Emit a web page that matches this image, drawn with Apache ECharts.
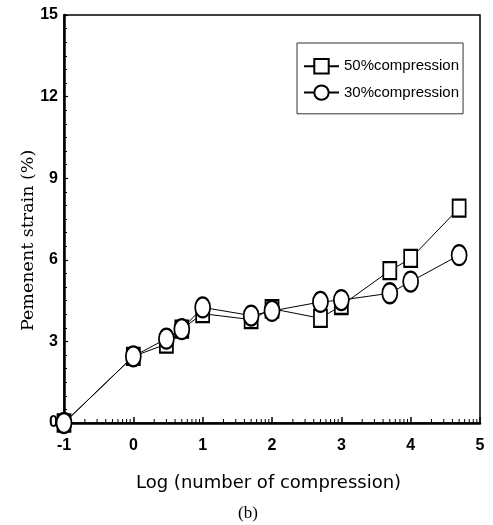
<!DOCTYPE html>
<html>
<head>
<meta charset="utf-8">
<script src="https://cdn.jsdelivr.net/npm/echarts@6/dist/echarts.min.js"></script>
<style>html,body{margin:0;padding:0;background:#fff}#c{width:493px;height:525px}</style>
</head>
<body>
<div id="c"></div>
<script>
// log10(number of compression)
const xLog = [-1, 0, 0.477, 0.699, 1, 1.699, 2, 2.699, 3, 3.699, 4, 4.699];
const strain50 = [0, 2.45, 2.9, 3.45, 4.02, 3.8, 4.2, 3.85, 4.32, 5.6, 6.05, 7.9];
const strain30 = [0, 2.45, 3.1, 3.45, 4.25, 3.95, 4.12, 4.45, 4.52, 4.77, 5.2, 6.17];
const seriesNames = ['50%compression', '30%compression'];
const xTicks = [-1, 0, 1, 2, 3, 4, 5];
const yTicks = [0, 3, 6, 9, 12, 15];
const decades = [-1, 0, 1, 2, 3, 4];
const multipliers = [2, 3, 4, 5, 6, 7, 8, 9];

const minorLogTicks = [];
decades.forEach(d => multipliers.forEach(m => minorLogTicks.push([d + Math.log10(m), 0])));

const chart = echarts.init(document.getElementById('c'), null, {renderer: 'canvas'});
const pair = (xs, ys) => xs.map((x, i) => [x, ys[i]]);

chart.setOption({
  animation: false,
  backgroundColor: '#fff',
  grid: {left: 64, top: 15, right: 13, bottom: 102, show: true, borderColor: '#000', borderWidth: 1.5, backgroundColor: 'transparent'},
  xAxis: {
    type: 'value', min: xTicks[0], max: xTicks[xTicks.length - 1], interval: 1,
    axisLine: {onZero: false, lineStyle: {color: '#000', width: 2.5}},
    axisTick: {inside: true, length: 6, lineStyle: {color: '#000', width: 1.5}},
    axisLabel: {margin: 15, color: '#000', fontSize: 16, fontWeight: 'bold', fontFamily: 'Liberation Sans, Arial'},
    splitLine: {show: false}
  },
  yAxis: {
    type: 'value', min: yTicks[0], max: yTicks[yTicks.length - 1], interval: 3,
    axisLine: {onZero: false, lineStyle: {color: '#000', width: 2.5}},
    axisTick: {inside: true, length: 4, lineStyle: {color: '#000', width: 1.2}},
    minorTick: {show: true, splitNumber: 6, length: 3, lineStyle: {color: '#000', width: 1}},
    axisLabel: {margin: 6, color: '#000', fontSize: 16, fontWeight: 'bold', fontFamily: 'Liberation Sans, Arial'},
    splitLine: {show: false}
  },
  legend: {
    orient: 'vertical', left: 297, top: 43,
    data: seriesNames,
    borderColor: '#333', borderWidth: 1, borderRadius: 0,
    padding: [15, 4, 13, 6], itemGap: 10, itemWidth: 35, itemHeight: 18,
    textStyle: {color: '#000', fontSize: 15, fontFamily: 'Liberation Sans, Arial'}
  },
  graphic: [
    {type: 'text', top: 474, left: 136, style: {text: 'Log (number of compression)', fill: '#000', font: '18px "DejaVu Sans"'}},
    {type: 'text', top: 505, left: 238, style: {text: '(b)', fill: '#000', font: '17px "Liberation Serif"'}},
    {type: 'text', rotation: Math.PI / 2, x: 19, y: 331, style: {text: 'Pemenent strain (%)', fill: '#000', font: '17.5px "DejaVu Serif"', textAlign: 'left', textVerticalAlign: 'top'}}
  ],
  series: [
    {
      type: 'custom', silent: true, z: 1,
      data: minorLogTicks,
      renderItem: (params, api) => {
        const p = api.coord([api.value(0), api.value(1)]);
        return {type: 'line', shape: {x1: p[0], y1: p[1], x2: p[0], y2: p[1] - 4}, style: {stroke: '#000', lineWidth: 1}};
      }
    },
    {
      name: seriesNames[0], type: 'line', data: pair(xLog, strain50), clip: false, z: 3,
      symbol: 'rect', symbolSize: [13, 17],
      lineStyle: {color: '#000', width: 1},
      itemStyle: {color: '#fff', borderColor: '#000', borderWidth: 2}
    },
    {
      name: seriesNames[1], type: 'line', data: pair(xLog, strain30), clip: false, z: 4,
      symbol: 'circle', symbolSize: [15, 20],
      lineStyle: {color: '#000', width: 1},
      itemStyle: {color: '#fff', borderColor: '#000', borderWidth: 2}
    }
  ]
});
</script>
</body>
</html>
